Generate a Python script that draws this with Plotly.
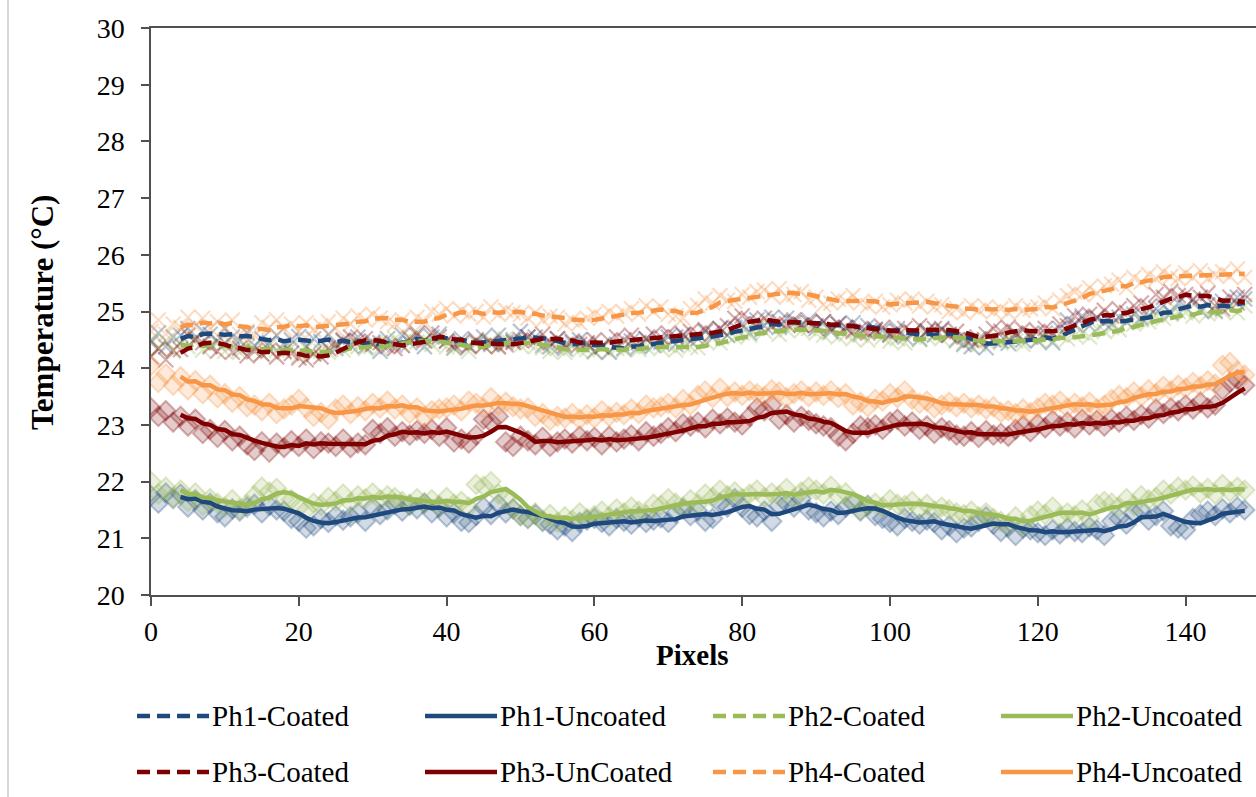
import plotly.graph_objects as go

# Pixel index along the scan line
pixels = list(range(149))

# Measured temperatures (°C) per phantom, coated and uncoated
ph1_coated = [
    24.45, 24.62, 24.38, 24.55, 24.58, 24.70, 24.52, 24.66, 24.60, 24.48,
    24.70, 24.55, 24.48, 24.62, 24.40, 24.52, 24.45, 24.58, 24.42, 24.50,
    24.56, 24.38, 24.52, 24.47, 24.60, 24.35, 24.48, 24.40, 24.55, 24.38,
    24.46, 24.30, 24.52, 24.41, 24.58, 24.45, 24.62, 24.38, 24.55, 24.60,
    24.48, 24.36, 24.52, 24.40, 24.47, 24.55, 24.42, 24.58, 24.46, 24.50,
    24.65, 24.55, 24.55, 24.40, 24.38, 24.52, 24.35, 24.45, 24.50, 24.42,
    24.30, 24.38, 24.28, 24.42, 24.35, 24.48, 24.38, 24.52, 24.40, 24.46,
    24.55, 24.42, 24.60, 24.48, 24.52, 24.65, 24.55, 24.70, 24.58, 24.72,
    24.78, 24.62, 24.85, 24.75, 24.90, 24.72, 24.88, 24.80, 24.76, 24.85,
    24.70, 24.82, 24.65, 24.78, 24.72, 24.80, 24.62, 24.75, 24.68, 24.66,
    24.58, 24.70, 24.55, 24.62, 24.52, 24.66, 24.58, 24.70, 24.60, 24.50,
    24.42, 24.38, 24.52, 24.36, 24.50, 24.48, 24.44, 24.58, 24.50, 24.55,
    24.48, 24.62, 24.45, 24.70, 24.85, 24.78, 24.92, 24.75, 24.88, 24.80,
    24.78, 24.90, 24.82, 24.95, 24.88, 24.92, 25.05, 25.10, 24.98, 25.15,
    25.08, 25.20, 25.02, 25.12, 25.00, 25.18, 25.10, 25.25, 25.22,
]
ph1_uncoated = [
    21.75, 21.62, 21.80, 21.70, 21.78, 21.55, 21.68, 21.50, 21.62, 21.45,
    21.38, 21.52, 21.48, 21.55, 21.60, 21.45, 21.58, 21.50, 21.48, 21.35,
    21.30, 21.18, 21.22, 21.35, 21.28, 21.40, 21.32, 21.38, 21.45, 21.30,
    21.55, 21.42, 21.50, 21.60, 21.48, 21.58, 21.52, 21.62, 21.45, 21.55,
    21.38, 21.45, 21.30, 21.28, 21.40, 21.55, 21.42, 21.60, 21.45, 21.52,
    21.40, 21.35, 21.42, 21.30, 21.25, 21.15, 21.22, 21.12, 21.28, 21.32,
    21.35, 21.28, 21.22, 21.35, 21.30, 21.25, 21.38, 21.28, 21.32, 21.36,
    21.28, 21.45, 21.52, 21.40, 21.48, 21.30, 21.35, 21.62, 21.55, 21.70,
    21.55, 21.42, 21.38, 21.48, 21.30, 21.58, 21.62, 21.55, 21.70, 21.50,
    21.45, 21.38, 21.48, 21.42, 21.55, 21.62, 21.48, 21.58, 21.40, 21.35,
    21.28, 21.22, 21.35, 21.30, 21.25, 21.32, 21.28, 21.15, 21.22, 21.10,
    21.18, 21.20, 21.30, 21.38, 21.25, 21.12, 21.20, 21.05, 21.18, 21.15,
    21.10, 21.05, 21.15, 21.08, 21.18, 21.12, 21.10, 21.20, 21.15, 21.05,
    21.30, 21.35, 21.25, 21.45, 21.50, 21.32, 21.40, 21.48, 21.22, 21.18,
    21.15, 21.35, 21.42, 21.48, 21.40, 21.52, 21.45, 21.55, 21.50,
]
ph2_coated = [
    24.50, 24.35, 24.48, 24.30, 24.45, 24.38, 24.52, 24.32, 24.40, 24.44,
    24.30, 24.42, 24.28, 24.38, 24.35, 24.25, 24.40, 24.32, 24.28, 24.36,
    24.22, 24.35, 24.26, 24.30, 24.28, 24.40, 24.32, 24.45, 24.38, 24.35,
    24.42, 24.36, 24.45, 24.52, 24.40, 24.55, 24.46, 24.50, 24.42, 24.48,
    24.38, 24.35, 24.42, 24.30, 24.45, 24.40, 24.48, 24.38, 24.52, 24.46,
    24.40, 24.45, 24.38, 24.36, 24.30, 24.35, 24.28, 24.38, 24.32, 24.33,
    24.28, 24.38, 24.30, 24.35, 24.32, 24.40, 24.33, 24.38, 24.42, 24.35,
    24.40, 24.32, 24.42, 24.38, 24.36, 24.48, 24.52, 24.45, 24.58, 24.55,
    24.62, 24.58, 24.70, 24.65, 24.72, 24.60, 24.68, 24.75, 24.66, 24.70,
    24.62, 24.58, 24.65, 24.55, 24.60, 24.52, 24.58, 24.50, 24.62, 24.55,
    24.48, 24.52, 24.45, 24.58, 24.50, 24.55, 24.60, 24.52, 24.58, 24.48,
    24.45, 24.50, 24.42, 24.48, 24.52, 24.45, 24.50, 24.48, 24.42, 24.55,
    24.50, 24.56, 24.48, 24.60, 24.52, 24.58, 24.62, 24.55, 24.70, 24.65,
    24.72, 24.68, 24.80, 24.78, 24.85, 24.82, 24.92, 24.88, 24.95, 25.00,
    24.98, 24.92, 25.05, 24.96, 25.02, 25.00, 25.08, 24.98, 25.10,
]
ph2_uncoated = [
    22.00, 21.78, 21.90, 21.72, 21.85, 21.65, 21.80, 21.58, 21.70, 21.62,
    21.55, 21.68, 21.52, 21.60, 21.75, 21.90, 21.82, 21.88, 21.70, 21.68,
    21.55, 21.50, 21.62, 21.58, 21.72, 21.65, 21.78, 21.62, 21.75, 21.70,
    21.80, 21.68, 21.75, 21.72, 21.65, 21.60, 21.70, 21.62, 21.68, 21.58,
    21.72, 21.60, 21.65, 21.55, 21.95, 21.92, 22.00, 21.78, 21.70, 21.52,
    21.40, 21.35, 21.45, 21.30, 21.42, 21.28, 21.38, 21.32, 21.45, 21.35,
    21.40, 21.48, 21.38, 21.52, 21.45, 21.55, 21.48, 21.42, 21.60, 21.58,
    21.70, 21.62, 21.55, 21.68, 21.60, 21.78, 21.72, 21.85, 21.75, 21.82,
    21.70, 21.78, 21.85, 21.72, 21.80, 21.75, 21.88, 21.70, 21.82, 21.90,
    21.85, 21.78, 21.92, 21.75, 21.80, 21.65, 21.50, 21.58, 21.62, 21.55,
    21.68, 21.60, 21.58, 21.65, 21.52, 21.60, 21.48, 21.55, 21.50, 21.45,
    21.42, 21.48, 21.38, 21.45, 21.35, 21.30, 21.25, 21.38, 21.22, 21.40,
    21.48, 21.42, 21.55, 21.38, 21.45, 21.40, 21.50, 21.35, 21.60, 21.65,
    21.62, 21.55, 21.70, 21.58, 21.75, 21.68, 21.72, 21.85, 21.78, 21.90,
    21.85, 21.92, 21.80, 21.88, 21.78, 21.95, 21.82, 21.90, 21.85,
]
ph3_coated = [
    24.20, 24.35, 24.15, 24.32, 24.33, 24.58, 24.50, 24.45, 24.38, 24.30,
    24.45, 24.28, 24.35, 24.22, 24.30, 24.25, 24.32, 24.20, 24.30, 24.26,
    24.18, 24.15, 24.25, 24.20, 24.35, 24.42, 24.50, 24.55, 24.48, 24.52,
    24.42, 24.45, 24.38, 24.35, 24.40, 24.52, 24.58, 24.48, 24.62, 24.55,
    24.48, 24.42, 24.45, 24.38, 24.50, 24.40, 24.45, 24.38, 24.42, 24.46,
    24.50, 24.55, 24.48, 24.60, 24.45, 24.52, 24.40, 24.48, 24.42, 24.45,
    24.50, 24.38, 24.48, 24.55, 24.50, 24.58, 24.45, 24.52, 24.60, 24.55,
    24.62, 24.55, 24.58, 24.65, 24.60, 24.68, 24.62, 24.70, 24.75, 24.88,
    24.92, 24.85, 24.78, 24.88, 24.75, 24.82, 24.78, 24.85, 24.76, 24.80,
    24.75, 24.82, 24.70, 24.78, 24.72, 24.65, 24.70, 24.62, 24.68, 24.72,
    24.60, 24.65, 24.70, 24.62, 24.75, 24.65, 24.70, 24.68, 24.58, 24.65,
    24.55, 24.50, 24.48, 24.60, 24.70, 24.65, 24.72, 24.62, 24.68, 24.60,
    24.65, 24.70, 24.62, 24.78, 24.75, 24.92, 24.88, 24.95, 24.90, 25.02,
    24.92, 25.05, 24.98, 25.10, 25.15, 25.08, 25.30, 25.25, 25.35, 25.28,
    25.30, 25.22, 25.25, 25.32, 25.10, 25.05, 25.25, 25.15, 25.30,
]
ph3_uncoated = [
    23.30, 23.15, 23.25, 23.05, 23.15, 22.98, 23.10, 22.85, 22.92, 22.78,
    22.90, 22.72, 22.80, 22.65, 22.55, 22.70, 22.52, 22.68, 22.60, 22.72,
    22.62, 22.75, 22.58, 22.70, 22.68, 22.62, 22.75, 22.60, 22.68, 22.65,
    22.92, 22.85, 22.95, 22.80, 22.88, 22.82, 22.90, 22.85, 22.92, 22.80,
    22.95, 22.70, 22.75, 22.68, 22.82, 23.10, 23.05, 23.15, 22.70, 22.62,
    22.80, 22.72, 22.65, 22.78, 22.62, 22.70, 22.75, 22.68, 22.80, 22.72,
    22.78, 22.65, 22.80, 22.70, 22.75, 22.82, 22.72, 22.88, 22.80, 22.85,
    22.95, 22.88, 23.02, 22.98, 23.05, 22.95, 23.10, 23.02, 23.12, 23.05,
    23.00, 23.15, 23.30, 23.25, 23.35, 23.10, 23.18, 23.05, 23.15, 23.08,
    23.02, 22.98, 22.95, 22.80, 22.72, 22.85, 22.98, 22.95, 23.00, 22.92,
    23.05, 23.10, 22.98, 23.05, 22.92, 22.98, 22.85, 22.95, 22.90, 22.82,
    22.80, 22.88, 22.78, 22.90, 22.82, 22.85, 22.80, 22.92, 22.98, 22.88,
    23.02, 22.95, 23.08, 22.98, 23.05, 22.95, 23.10, 23.00, 23.08, 22.98,
    23.10, 23.05, 23.15, 23.08, 23.18, 23.12, 23.28, 23.20, 23.30, 23.25,
    23.35, 23.28, 23.40, 23.30, 23.35, 23.62, 23.75, 23.80, 23.70,
]
ph4_coated = [
    24.65, 24.85, 24.60, 24.78, 24.72, 24.90, 24.75, 24.88, 24.70, 24.82,
    24.72, 24.85, 24.60, 24.65, 24.58, 24.80, 24.72, 24.85, 24.70, 24.78,
    24.65, 24.80, 24.68, 24.75, 24.82, 24.70, 24.88, 24.78, 24.92, 24.85,
    24.95, 24.88, 24.82, 24.78, 24.85, 24.75, 24.90, 24.82, 25.00, 24.95,
    25.05, 24.92, 25.02, 24.95, 25.00, 24.90, 25.08, 24.95, 25.02, 24.98,
    24.95, 24.88, 24.98, 24.85, 24.92, 24.90, 24.78, 24.85, 24.80, 24.88,
    24.95, 24.90, 25.00, 24.92, 24.98, 25.05, 24.95, 25.10, 25.00, 25.08,
    24.95, 24.92, 24.88, 25.05, 25.10, 25.22, 25.15, 25.28, 25.20, 25.18,
    25.30, 25.25, 25.35, 25.38, 25.28, 25.40, 25.25, 25.30, 25.35, 25.20,
    25.25, 25.12, 25.15, 25.22, 25.18, 25.28, 25.15, 25.10, 25.18, 25.08,
    25.12, 25.20, 25.15, 25.22, 25.10, 25.18, 25.08, 25.12, 25.00, 25.05,
    24.98, 25.10, 25.02, 25.08, 25.00, 25.05, 24.98, 25.10, 25.02, 25.05,
    25.08, 25.15, 25.05, 25.20, 25.28, 25.35, 25.30, 25.42, 25.32, 25.45,
    25.48, 25.55, 25.42, 25.60, 25.52, 25.65, 25.58, 25.70, 25.62, 25.58,
    25.68, 25.60, 25.72, 25.58, 25.65, 25.70, 25.62, 25.75, 25.60,
]
ph4_uncoated = [
    24.05, 23.75, 23.90, 23.70, 23.85, 23.62, 23.78, 23.55, 23.70, 23.48,
    23.55, 23.40, 23.50, 23.32, 23.35, 23.25, 23.38, 23.20, 23.28, 23.35,
    23.45, 23.30, 23.15, 23.22, 23.10, 23.28, 23.35, 23.20, 23.32, 23.25,
    23.38, 23.30, 23.42, 23.28, 23.35, 23.20, 23.30, 23.15, 23.25, 23.28,
    23.30, 23.35, 23.25, 23.42, 23.38, 23.30, 23.48, 23.35, 23.40, 23.32,
    23.28, 23.30, 23.15, 23.20, 23.08, 23.15, 23.12, 23.20, 23.10, 23.18,
    23.12, 23.25, 23.15, 23.22, 23.18, 23.28, 23.20, 23.35, 23.30, 23.32,
    23.38, 23.30, 23.45, 23.35, 23.52, 23.60, 23.48, 23.65, 23.50, 23.58,
    23.52, 23.60, 23.55, 23.50, 23.62, 23.58, 23.48, 23.55, 23.60, 23.50,
    23.58, 23.52, 23.60, 23.48, 23.55, 23.35, 23.40, 23.32, 23.45, 23.42,
    23.55, 23.48, 23.60, 23.45, 23.38, 23.42, 23.30, 23.35, 23.40, 23.32,
    23.38, 23.30, 23.35, 23.28, 23.32, 23.22, 23.25, 23.20, 23.28, 23.22,
    23.30, 23.38, 23.35, 23.42, 23.30, 23.38, 23.32, 23.40, 23.28, 23.35,
    23.45, 23.52, 23.48, 23.58, 23.50, 23.62, 23.55, 23.68, 23.60, 23.70,
    23.65, 23.75, 23.68, 23.78, 23.72, 24.05, 24.10, 23.95, 23.88,
]

series_names = [
    "Ph1-Coated", "Ph1-Uncoated", "Ph2-Coated", "Ph2-Uncoated",
    "Ph3-Coated", "Ph3-UnCoated", "Ph4-Coated", "Ph4-Uncoated",
]
series_values = [
    ph1_coated, ph1_uncoated, ph2_coated, ph2_uncoated,
    ph3_coated, ph3_uncoated, ph4_coated, ph4_uncoated,
]
series_rgb = [
    (31, 73, 125), (31, 73, 125), (155, 187, 89), (155, 187, 89),
    (127, 0, 0), (127, 0, 0), (247, 150, 70), (247, 150, 70),
]
series_coated = [True, False, True, False, True, False, True, False]

x_ticks = [0, 20, 40, 60, 80, 100, 120, 140]
y_ticks = [20, 21, 22, 23, 24, 25, 26, 27, 28, 29, 30]

MA_PERIOD = 5
DASH = "13px,7px"
FONT = "Liberation Serif"

# page geometry (px)
W, H = 1256, 797
PLOT_L, PLOT_R, PLOT_T, PLOT_B = 151, 1256, 28, 595
X_PER_PX = 7.39


def rgba(rgb, a):
    return "rgba(%d,%d,%d,%.2f)" % (rgb[0], rgb[1], rgb[2], a)


def moving_average(xs, ys, period):
    mx, my = [], []
    for i in range(period - 1, len(ys)):
        mx.append(xs[i])
        my.append(sum(ys[i - period + 1:i + 1]) / period)
    return mx, my


def px_x(px):
    return (px - PLOT_L) / (PLOT_R - PLOT_L)


def px_y(py):
    return (PLOT_B - py) / (PLOT_B - PLOT_T)


fig = go.Figure()

# raw measurements: semi-transparent markers
for name, vals, rgb, coated in zip(series_names, series_values, series_rgb, series_coated):
    if coated:
        marker = dict(symbol="x-thin", size=15,
                      line=dict(color=rgba(rgb, 0.32), width=2.2))
    else:
        marker = dict(symbol="diamond", size=15, color=rgba(rgb, 0.2),
                      line=dict(color=rgba(rgb, 0.3), width=2))
    fig.add_trace(go.Scatter(x=pixels, y=vals, mode="markers", marker=marker,
                             name=name, showlegend=False, hoverinfo="skip"))

# moving-average trendlines on top
for name, vals, rgb, coated in zip(series_names, series_values, series_rgb, series_coated):
    mx, my = moving_average(pixels, vals, MA_PERIOD)
    fig.add_trace(go.Scatter(
        x=mx, y=my, mode="lines", name=name, showlegend=False,
        line=dict(color=rgba(rgb, 1), width=4.5, dash=DASH if coated else "solid"),
    ))

# legend drawn as line samples + labels, 4 columns x 2 rows
legend_cols = [137, 425, 713, 1001]
legend_rows = [716, 772]
shapes = []
annotations = []
for i, (name, rgb, coated) in enumerate(zip(series_names, series_rgb, series_coated)):
    col, row = i % 4, i // 4
    x0 = legend_cols[col]
    y = legend_rows[row]
    shapes.append(dict(
        type="line", xref="paper", yref="paper",
        x0=px_x(x0), x1=px_x(x0 + 72), y0=px_y(y), y1=px_y(y),
        line=dict(color=rgba(rgb, 1), width=4.5, dash=DASH if coated else "solid"),
    ))
    annotations.append(dict(
        text=name, xref="paper", yref="paper", x=px_x(x0 + 73), y=px_y(y),
        xanchor="left", yanchor="middle", showarrow=False,
        font=dict(family=FONT, size=29, color="black"),
    ))

# chart-area left border
shapes.append(dict(type="line", xref="paper", yref="paper",
                   x0=px_x(8), x1=px_x(8), y0=px_y(H), y1=px_y(0),
                   line=dict(color="#c8c8c8", width=1.5)))

# axis titles
annotations.append(dict(text="<b>Pixels</b>", xref="paper", yref="paper",
                        x=px_x(692), y=px_y(655), xanchor="center", yanchor="middle",
                        showarrow=False, font=dict(family=FONT, size=29, color="black")))
annotations.append(dict(text="<b>Temperature (°C)</b>", xref="paper", yref="paper",
                        x=px_x(42), y=px_y(313), xanchor="center", yanchor="middle",
                        textangle=-90, showarrow=False,
                        font=dict(family=FONT, size=31, color="black")))

axis_color = "#505050"
fig.update_layout(
    width=W, height=H,
    margin=dict(l=PLOT_L, r=W - PLOT_R, t=PLOT_T, b=H - PLOT_B, pad=0),
    paper_bgcolor="white", plot_bgcolor="white",
    showlegend=False,
    shapes=shapes, annotations=annotations,
    xaxis=dict(
        range=[0, (PLOT_R - PLOT_L) / X_PER_PX], tickvals=x_ticks,
        ticktext=[str(v) for v in x_ticks],
        showgrid=False, zeroline=False, showline=True, mirror=True,
        linecolor=axis_color, linewidth=1.5,
        ticks="outside", ticklen=9, tickwidth=1.5, tickcolor=axis_color,
        tickfont=dict(family=FONT, size=28, color="black"),
        ticklabelstandoff=2,
    ),
    yaxis=dict(
        range=[20, 30], tickvals=y_ticks, ticktext=[str(v) for v in y_ticks],
        showgrid=False, zeroline=False, showline=True,
        linecolor=axis_color, linewidth=1.5,
        ticks="outside", ticklen=8, tickwidth=1.5, tickcolor=axis_color,
        tickfont=dict(family=FONT, size=28, color="black"),
        ticklabelstandoff=11,
    ),
)

fig.write_html("out.html")
